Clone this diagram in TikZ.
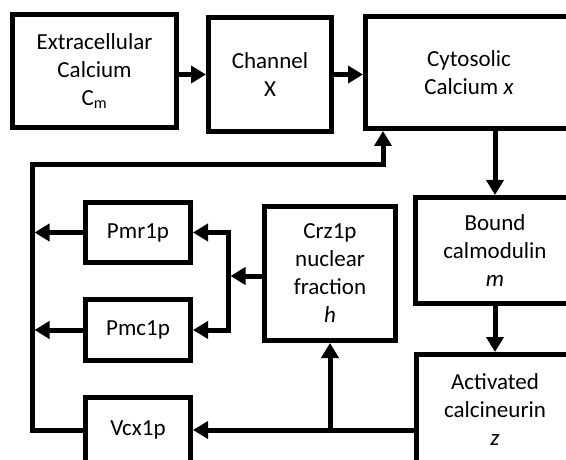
\documentclass[tikz,border=0pt]{standalone}
\usepackage{fontspec}
\setmainfont{Carlito}
\usetikzlibrary{arrows.meta}

\begin{document}
\begin{tikzpicture}[x=1pt,y=-1pt,line width=5pt,
  box/.style={rectangle,draw,inner sep=0pt,align=center,font=\fontsize{23}{28}\selectfont},
  arr/.style={-{Triangle[length=15pt,width=17pt]}}]
\useasboundingbox (0,0) rectangle (566,460);
\clip (0,0) rectangle (566,460);
\node[box,minimum width=164pt,minimum height=113pt] (ext) at (94.5,71) {Extracellular\\Calcium\\C\textsubscript{m}};
\node[box,minimum width=123pt,minimum height=114pt] (chan) at (270,74.5) {Channel\\X};
\node[box,minimum width=207pt,minimum height=112pt] (cyto) at (469,72.5) {Cytosolic\\Calcium \textit{x}};
\node[box,minimum width=159pt,minimum height=106pt] (bound) at (495,250.5) {Bound\\calmodulin\\\textit{m}};
\node[box,minimum width=157pt,minimum height=111pt] (act) at (495,410) {Activated\\calcineurin\\\textit{z}};
\node[box,minimum width=131pt,minimum height=134pt] (crz) at (330,273.5) {Crz1p\\nuclear\\fraction\\\textit{h}};
\node[box,minimum width=105pt,minimum height=60pt] (pmr) at (138,232.5) {Pmr1p};
\node[box,minimum width=105pt,minimum height=61pt] (pmc) at (138,330) {Pmc1p};
\node[box,minimum width=105pt,minimum height=65pt] (vcx) at (138,430) {Vcx1p};
\coordinate (ret) at (32,165);
\coordinate (jn) at (228,276);

\draw[arr] (ext.east |- chan.west) -- (chan.west);
\draw[arr] (chan.east) -- (cyto.west |- chan.east);
\draw[arr] (bound.north |- cyto.south) -- (bound.north);
\draw[arr] (bound) -- (act);
\draw[arr] (act.west |- vcx.east) -- (vcx.east);
\draw[arr] (crz.south |- vcx.east) -- (crz.south);
\draw[arr,shorten >=2.5pt] (crz.west |- jn) -- (jn);
\draw[arr] (jn) |- (pmr.east);
\draw[arr] (jn) |- (pmc.east);
\draw[arr,shorten >=2.5pt] (pmr.west) -- (pmr.west -| ret);
\draw[arr,shorten >=2.5pt] (pmc.west) -- (pmc.west -| ret);
\draw[arr] (vcx.west) -| (ret) -| ([xshift=20pt]cyto.south west);
\end{tikzpicture}
\end{document}
